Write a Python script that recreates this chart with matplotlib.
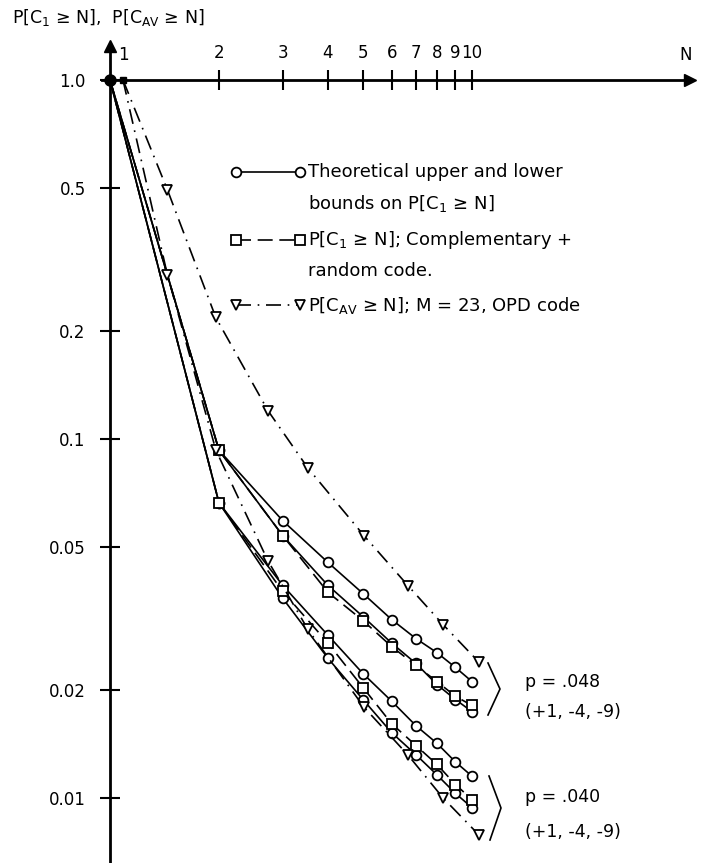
import matplotlib
matplotlib.use('Agg')
import matplotlib.pyplot as plt
from matplotlib.ticker import NullLocator

# N values for the bound / simulation curves
n_values = [1, 2, 3, 4, 5, 6, 7, 8, 9, 10]

# p = .048 group
upper_048 = [1.0, 0.093, 0.0592, 0.0453, 0.0371, 0.0314, 0.0278, 0.0254, 0.0231, 0.0211]
square_048 = [1.0, 0.093, 0.0538, 0.0374, 0.0312, 0.0264, 0.0234, 0.0211, 0.0192, 0.0181]
lower_048 = [1.0, 0.093, 0.0538, 0.0391, 0.0320, 0.0270, 0.0237, 0.0207, 0.0188, 0.0174]

# p = .040 group
upper_040 = [1.0, 0.0664, 0.0391, 0.0284, 0.0222, 0.0186, 0.0159, 0.0142, 0.0126, 0.0115]
square_040 = [1.0, 0.0664, 0.0376, 0.0270, 0.0203, 0.0161, 0.0140, 0.0124, 0.0109, 0.0099]
lower_040 = [1.0, 0.0664, 0.0360, 0.0245, 0.0188, 0.0152, 0.0132, 0.0116, 0.0103, 0.0094]

# OPD code, averaged over M = 23
tri_n = [1.086, 1.44, 1.96, 2.73, 3.52, 5.03, 6.66, 8.32, 10.45]
tri_048 = [1.0, 0.495, 0.218, 0.120, 0.083, 0.0538, 0.039, 0.0304, 0.0239]
tri_040 = [1.0, 0.287, 0.0932, 0.0458, 0.0295, 0.0179, 0.01316, 0.0100, 0.00789]

x_ticks = [2, 3, 4, 5, 6, 7, 8, 9, 10]
y_ticks = [1.0, 0.5, 0.2, 0.1, 0.05, 0.02, 0.01]
y_tick_labels = ['1.0', '0.5', '0.2', '0.1', '0.05', '0.02', '0.01']

W, H = 706, 863


#pixel position -> axes fraction, for the hand placed texts
def px(x, y):
    return x / W, 1 - y / H


fig = plt.figure(figsize=(W / 100, H / 100), dpi=100)
ax = fig.add_axes([0, 0, 1, 1])
ax.set_xscale('log')
ax.set_yscale('log')
ax.set_xlim(0.4967, 44.3)
ax.set_ylim(0.00659, 1.670)

# --- axes drawn as crossing arrows at (1, 1.0) ---
for side in ['bottom', 'right']:
    ax.spines[side].set_visible(False)
ax.spines['left'].set_position(('data', 1))
ax.spines['top'].set_position(('data', 1.0))
ax.spines['left'].set_bounds(0.00659, 1.22)
ax.spines['top'].set_bounds(0.95, 39.0)
ax.spines['left'].set_linewidth(2)
ax.spines['top'].set_linewidth(2)
ax.plot(1, 1.24, marker='^', ms=9, color='k', clip_on=False, zorder=6)
ax.plot(40.0, 1.0, marker='>', ms=9, color='k', clip_on=False, zorder=6)

ax.xaxis.set_ticks_position('top')
ax.yaxis.set_ticks_position('left')
ax.xaxis.set_minor_locator(NullLocator())
ax.yaxis.set_minor_locator(NullLocator())
ax.set_xticks(x_ticks, labels=[str(v) for v in x_ticks])
ax.set_yticks(y_ticks, labels=y_tick_labels)
ax.tick_params(axis='x', direction='inout', length=14, width=1.5, pad=6, labelsize=12)
ax.tick_params(axis='y', direction='inout', length=15, width=1.5, pad=10, labelsize=12)

ax.text(*px(118, 55), '1', transform=ax.transAxes, fontsize=12, ha='left', va='center')
ax.text(*px(686, 55), 'N', transform=ax.transAxes, fontsize=12, ha='center', va='center')
ax.text(*px(12, 18), r'P[C$_1$ ≥ N],  P[C$_{\mathrm{AV}}$ ≥ N]', transform=ax.transAxes,
        fontsize=12.5, ha='left', va='center')

# --- curves ---
circ = dict(marker='o', ms=7, mfc='white', mec='k', mew=1.3, color='k', lw=1.2)
sq = dict(marker='s', ms=7, mfc='white', mec='k', mew=1.3, color='k', lw=1.2, dashes=(9, 4))
tri = dict(marker='v', ms=7, mfc='white', mec='k', mew=1.3, color='k', lw=1.2,
           dashes=(9, 4, 1, 4), markevery=list(range(1, len(tri_n))))

for ys in [upper_048, lower_048, upper_040, lower_040]:
    ax.plot(n_values, ys, markevery=list(range(1, len(n_values))), **circ)
for ys in [square_048, square_040]:
    ax.plot(n_values, ys, markevery=list(range(1, len(n_values))), **sq)
for ys in [tri_048, tri_040]:
    ax.plot(tri_n, ys, clip_on=False, **tri)

ax.plot(tri_n[0], tri_048[0], marker='s', ms=5, color='k', zorder=6)
ax.plot(n_values[0], upper_048[0], marker='o', ms=8, color='k', zorder=7, clip_on=False)

# --- legend, drawn by hand ---
leg_x0, leg_x1, leg_text = 236, 300, 308
for y, style in [(172, circ), (240, sq), (305, tri)]:
    st = dict(style)
    st.pop('markevery', None)
    ax.plot([px(leg_x0, y)[0], px(leg_x1, y)[0]], [px(leg_x0, y)[1]] * 2,
            transform=ax.transAxes, clip_on=False, **st)

legend_lines = [
    (172, 'Theoretical upper and lower'),
    (203, r'bounds on P[C$_1$ ≥ N]'),
    (240, r'P[C$_1$ ≥ N]; Complementary +'),
    (271, 'random code.'),
    (305, r'P[C$_{\mathrm{AV}}$ ≥ N]; M = 23, OPD code'),
]
for y, s in legend_lines:
    ax.text(*px(leg_text, y), s, transform=ax.transAxes, fontsize=13, ha='left', va='center')

# --- brackets and p labels on the right ---
for top, mid, bot in [((488, 663), (500, 689), (488, 715)), ((489, 776), (501, 808), (490, 840))]:
    xs = [px(*top)[0], px(*mid)[0], px(*bot)[0]]
    ys = [px(*top)[1], px(*mid)[1], px(*bot)[1]]
    ax.plot(xs, ys, transform=ax.transAxes, color='k', lw=1.2)

for y, s in [(682, 'p = .048'), (712, '(+1, -4, -9)'), (797, 'p = .040'), (832, '(+1, -4, -9)')]:
    ax.text(*px(525, y), s, transform=ax.transAxes, fontsize=12.5, ha='left', va='center')

fig.savefig('out.png', dpi=100)
